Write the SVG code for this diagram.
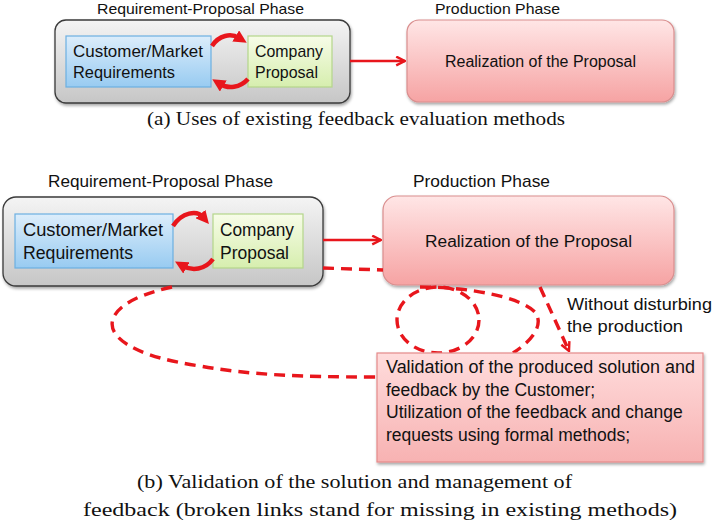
<svg xmlns="http://www.w3.org/2000/svg" width="715" height="524" viewBox="0 0 715 524">
<defs>
<linearGradient id="gGray" x1="0" y1="0" x2="0" y2="1"><stop offset="0" stop-color="#f4f4f4"/><stop offset="1" stop-color="#c6c6c6"/></linearGradient>
<linearGradient id="gBlue" x1="0" y1="0" x2="0" y2="1"><stop offset="0" stop-color="#dcedfb"/><stop offset="1" stop-color="#98cbf1"/></linearGradient>
<linearGradient id="gGreen" x1="0" y1="0" x2="0" y2="1"><stop offset="0" stop-color="#f7fce8"/><stop offset="1" stop-color="#d6eeae"/></linearGradient>
<linearGradient id="gPink" x1="0" y1="0" x2="0" y2="1"><stop offset="0" stop-color="#ffe6e6"/><stop offset="1" stop-color="#f6a3a3"/></linearGradient>
<linearGradient id="gVal" x1="0" y1="0" x2="0" y2="1"><stop offset="0" stop-color="#ffdcdc"/><stop offset="1" stop-color="#f7b2b2"/></linearGradient>
<filter id="sh" x="-10%" y="-10%" width="120%" height="130%"><feDropShadow dx="1" dy="2" stdDeviation="1.5" flood-color="#000" flood-opacity="0.35"/></filter>
<marker id="headFill" viewBox="0 0 10 10" refX="3" refY="5" markerWidth="13" markerHeight="13" markerUnits="userSpaceOnUse" orient="auto"><path d="M0,0 L10,5 L0,10 z" fill="#e8161c"/></marker>
<marker id="headOpen" viewBox="0 0 10 10" refX="9" refY="5" markerWidth="11" markerHeight="11" markerUnits="userSpaceOnUse" orient="auto"><path d="M1,1 L9,5 L1,9" fill="none" stroke="#e8161c" stroke-width="2.2"/></marker>
</defs>
<style>
.gray{fill:url(#gGray);stroke:#3a3a3a;stroke-width:1.3;filter:url(#sh)}
.blue{fill:url(#gBlue);stroke:#6cb0e2;stroke-width:1.2}
.green{fill:url(#gGreen);stroke:#b4d68a;stroke-width:1.2}
.pink{fill:url(#gPink);stroke:#d98e8e;stroke-width:1.2;filter:url(#sh)}
.val{fill:url(#gVal);stroke:#e58a8a;stroke-width:1.2;filter:url(#sh)}
.t{font-family:"Liberation Sans",Arial,sans-serif;fill:#111}
.cap{font-family:"Liberation Serif","Times New Roman",serif;fill:#111;font-size:19.5px}
.curve{fill:none;stroke:#e8161c;stroke-width:4.5;marker-end:url(#headFill)}
.solid{fill:none;stroke:#e8161c;stroke-width:2.6;marker-end:url(#headOpen)}
.dash{fill:none;stroke:#e8161c;stroke-width:3.4;stroke-dasharray:11 7}
</style>

<!-- Part (a) -->
<g id="a-req-phase">
<text class="t" x="97" y="14" font-size="14.5" textLength="207" lengthAdjust="spacingAndGlyphs">Requirement-Proposal Phase</text>
<rect class="gray" x="55" y="20" width="295" height="83" rx="11"/>
</g>
<g id="a-customer">
<rect class="blue" x="66" y="36" width="145" height="51"/>
<text class="t" x="73" y="57" font-size="17" textLength="130" lengthAdjust="spacingAndGlyphs">Customer/Market</text>
<text class="t" x="73" y="78" font-size="17" textLength="102" lengthAdjust="spacingAndGlyphs">Requirements</text>
</g>
<g id="a-company">
<rect class="green" x="248" y="36" width="84" height="51"/>
<text class="t" x="255" y="57" font-size="17" textLength="68" lengthAdjust="spacingAndGlyphs">Company</text>
<text class="t" x="255" y="78" font-size="17" textLength="63" lengthAdjust="spacingAndGlyphs">Proposal</text>
</g>
<g id="a-production">
<text class="t" x="435" y="14" font-size="14.5" textLength="125" lengthAdjust="spacingAndGlyphs">Production Phase</text>
<rect class="pink" x="407" y="20" width="267" height="82" rx="12"/>
<text class="t" x="445" y="67" font-size="16" textLength="191" lengthAdjust="spacingAndGlyphs">Realization of the Proposal</text>
</g>
<g id="a-connectors">
<path class="curve" d="M212,46 C219,35 231,33 239,38"/>
<path class="curve" d="M248,79 C240,88 228,89 220,84"/>
<path class="solid" d="M350,61 L405,61"/>
</g>
<text class="cap" x="147" y="125" textLength="418" lengthAdjust="spacingAndGlyphs">(a) Uses of existing feedback evaluation methods</text>

<!-- Part (b) -->
<g id="b-req-phase">
<text class="t" x="48" y="187" font-size="17" textLength="225" lengthAdjust="spacingAndGlyphs">Requirement-Proposal Phase</text>
<rect class="gray" x="3" y="197" width="320" height="89" rx="13"/>
</g>
<g id="b-customer">
<rect class="blue" x="15" y="214" width="158" height="54"/>
<text class="t" x="23" y="236" font-size="18.3" textLength="140" lengthAdjust="spacingAndGlyphs">Customer/Market</text>
<text class="t" x="23" y="259" font-size="18.3" textLength="110" lengthAdjust="spacingAndGlyphs">Requirements</text>
</g>
<g id="b-company">
<rect class="green" x="213" y="214" width="90" height="54"/>
<text class="t" x="220" y="236" font-size="18.3" textLength="74" lengthAdjust="spacingAndGlyphs">Company</text>
<text class="t" x="220" y="259" font-size="18.3" textLength="69" lengthAdjust="spacingAndGlyphs">Proposal</text>
</g>
<g id="b-production">
<text class="t" x="413" y="187" font-size="17" textLength="137" lengthAdjust="spacingAndGlyphs">Production Phase</text>
<rect class="pink" x="383" y="196" width="291" height="89" rx="14"/>
<text class="t" x="425" y="247" font-size="17.3" textLength="207" lengthAdjust="spacingAndGlyphs">Realization of the Proposal</text>
</g>
<g id="b-connectors">
<path class="curve" d="M173,226 C182,212 197,210 203,217"/>
<path class="curve" d="M213,259 C205,270 192,271 183,266"/>
<path class="solid" d="M323,240 L381,240"/>
<path class="dash" d="M323,268 L383,270"/>
<path class="dash" d="M172,287 C88,305 88,350 200,366 C250,375 300,377 377,377"/>
<ellipse class="dash" cx="438" cy="320" rx="41" ry="33"/>
<path class="dash" d="M420,287 C470,287 520,297 535,312 C545,326 530,342 513,353"/>
<path class="dash" d="M540,287 L569,351" marker-end="url(#headOpen)"/>
</g>
<g id="b-validation">
<rect class="val" x="377" y="353" width="326" height="109"/>
<text class="t" x="386" y="373" font-size="17.5" textLength="309" lengthAdjust="spacingAndGlyphs">Validation of the produced solution and</text>
<text class="t" x="386" y="396" font-size="17.5">feedback by the Customer;</text>
<text class="t" x="386" y="418" font-size="17.5">Utilization of the feedback and change</text>
<text class="t" x="386" y="441" font-size="17.5">requests using formal methods;</text>
</g>
<g id="b-note">
<text class="t" x="567" y="310" font-size="17" textLength="145" lengthAdjust="spacingAndGlyphs">Without disturbing</text>
<text class="t" x="567" y="332" font-size="17" textLength="116" lengthAdjust="spacingAndGlyphs">the production</text>
</g>
<text class="cap" x="137" y="488" textLength="435" lengthAdjust="spacingAndGlyphs">(b) Validation of the solution and management of</text>
<text class="cap" x="83" y="516" textLength="594" lengthAdjust="spacingAndGlyphs">feedback (broken links stand for missing in existing methods)</text>
</svg>
